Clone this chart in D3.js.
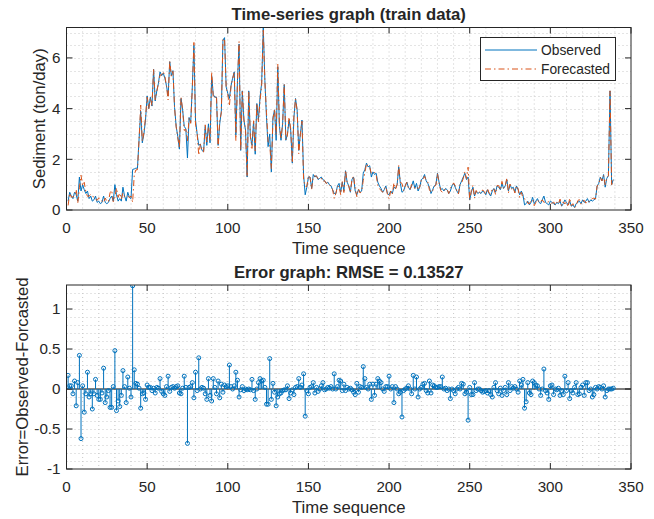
<!DOCTYPE html>
<html>
<head>
<meta charset="utf-8">
<script src="https://cdn.jsdelivr.net/npm/d3@7"></script>
<style>
body { margin: 0; background: #fff; }
text { font-family: "Liberation Sans", Arial, Helvetica, sans-serif; fill: #262626; }
</style>
</head>
<body>
<div id="chart"></div>
<script>
// values, index 1..339
var observed = [
 0.35,0.70,0.55,0.45,0.70,0.60,0.35,1.30,0.75,1.00,
 0.80,0.65,0.75,0.45,0.55,0.35,0.40,0.55,0.30,0.35,
 0.25,0.30,0.55,0.30,0.25,0.30,0.45,0.55,0.35,1.00,
 0.60,0.35,0.45,0.35,0.90,0.55,0.35,0.70,0.50,0.45,
 1.60,1.62,1.65,1.65,2.80,3.90,2.65,3.00,3.55,4.50,
 4.00,4.45,4.10,5.55,4.30,4.70,5.00,5.45,5.30,5.40,
 5.20,4.90,4.50,5.85,5.30,5.50,4.05,3.30,2.90,2.40,
 4.40,3.95,3.30,3.20,2.05,3.65,3.45,4.85,6.50,3.55,
 3.00,2.55,2.60,2.35,2.30,3.30,2.55,3.40,2.65,5.30,
 4.55,4.45,4.45,2.55,3.40,3.90,6.70,6.80,4.85,4.60,
 4.40,4.90,5.20,5.45,2.95,5.10,6.55,2.35,4.70,3.55,
 3.15,1.30,4.70,2.90,2.55,3.50,2.20,4.20,3.55,4.45,
 5.00,7.20,5.10,3.65,2.50,3.00,1.50,3.65,3.95,2.75,
 5.65,3.30,2.75,3.40,4.95,2.75,3.00,3.55,3.15,1.85,
 3.65,4.40,3.95,2.35,3.00,3.55,1.40,0.60,0.90,1.30,
 1.30,0.85,1.40,1.30,1.35,1.20,1.25,1.30,1.20,1.15,
 1.05,1.10,1.00,0.95,0.80,0.65,0.65,0.95,1.05,0.70,
 1.10,0.75,1.55,1.10,0.95,0.70,1.20,1.30,0.75,0.60,
 0.80,0.70,0.75,1.45,1.60,1.85,1.70,1.75,1.30,1.50,
 1.40,1.45,1.10,0.95,0.85,0.70,0.80,0.95,0.65,0.60,
 0.75,0.65,0.90,0.85,1.00,1.70,1.05,0.70,0.75,0.95,
 1.10,0.90,0.80,0.95,1.15,0.85,1.05,0.75,0.90,1.20,
 1.25,1.40,1.15,1.05,0.90,0.65,0.80,0.95,1.00,1.45,
 1.10,0.80,0.85,0.75,0.85,0.80,0.65,0.75,0.95,1.05,
 0.90,0.75,0.65,1.00,1.15,1.30,1.45,1.20,1.30,0.40,
 0.70,0.90,0.55,0.75,0.65,0.70,0.65,0.75,0.70,0.60,
 0.80,0.65,0.55,0.75,0.85,0.70,0.95,0.90,0.80,1.05,
 0.85,0.95,1.20,0.75,1.00,0.85,0.90,0.70,0.95,0.80,
 0.60,0.75,0.60,0.20,0.25,0.35,0.20,0.30,0.50,0.25,
 0.35,0.45,0.30,0.25,0.40,0.55,0.30,0.25,0.20,0.35,
 0.30,0.25,0.20,0.30,0.25,0.35,0.15,0.25,0.40,0.30,
 0.20,0.35,0.15,0.20,0.10,0.25,0.30,0.35,0.25,0.40,
 0.30,0.35,0.45,0.30,0.40,0.35,0.40,0.45,0.95,1.05,
 1.30,1.15,1.40,0.90,1.25,1.35,4.70,1.00,1.20
];

var forecasted = [
 0.18,0.66,0.51,0.51,0.60,0.81,0.27,0.88,1.37,0.96,
 1.09,0.71,0.54,0.55,0.61,0.60,0.46,0.43,0.38,0.48,
 0.38,0.35,0.29,0.47,0.35,0.32,0.68,0.78,0.32,0.52,
 0.87,0.50,0.67,0.43,0.67,0.52,0.52,0.55,0.49,0.55,
 0.31,1.38,1.58,1.59,2.79,4.14,2.71,3.05,3.68,4.45,
 3.98,4.43,4.12,5.54,4.35,4.68,4.99,5.32,5.33,5.46,
 5.28,4.87,4.34,5.88,5.28,5.47,4.04,3.27,2.86,2.45,
 4.46,3.94,3.14,3.18,2.73,3.63,3.42,4.77,6.61,3.34,
 3.02,2.16,2.60,2.33,2.29,3.36,2.68,3.27,2.73,5.45,
 4.42,4.43,4.51,2.45,3.51,3.84,6.74,6.75,4.82,4.56,
 4.10,4.87,5.20,5.41,2.74,4.99,6.65,2.36,4.67,3.57,
 3.15,1.31,4.70,2.91,2.43,3.52,2.33,4.20,3.47,4.32,
 4.90,7.09,5.08,3.84,2.69,2.62,1.63,3.58,3.99,2.96,
 5.75,3.36,2.80,3.42,4.96,2.76,2.96,3.67,3.20,1.86,
 3.72,4.38,3.92,2.22,2.98,3.50,1.21,0.94,0.92,1.36,
 1.28,0.82,1.32,1.35,1.33,1.23,1.25,1.26,1.12,1.16,
 1.05,1.08,0.99,0.92,0.80,0.46,0.65,0.92,0.94,0.60,
 1.12,0.69,1.57,1.08,0.95,0.69,1.21,1.34,0.82,0.53,
 0.84,0.67,0.73,1.17,1.47,1.83,1.70,1.69,1.43,1.44,
 1.48,1.39,0.97,0.85,0.77,0.70,0.83,0.92,0.62,0.44,
 0.75,0.62,1.07,0.82,1.00,1.76,1.09,1.05,0.77,0.95,
 1.09,0.86,0.80,1.01,0.98,0.85,0.90,0.85,0.90,1.18,
 1.19,1.33,1.17,1.10,0.80,0.70,0.75,0.91,0.98,1.43,
 1.07,0.77,0.70,0.75,0.84,0.82,0.65,0.87,0.95,1.07,
 0.96,0.75,0.63,1.00,1.08,1.24,1.51,1.24,1.69,0.38,
 0.77,0.97,0.47,0.77,0.65,0.70,0.67,0.79,0.73,0.62,
 0.85,0.67,0.62,0.85,0.83,0.62,0.97,0.96,0.79,1.13,
 0.87,0.93,1.27,0.67,1.02,0.82,0.89,0.67,0.95,0.84,
 0.50,0.70,0.48,0.44,0.41,0.27,0.25,0.37,0.40,0.17,
 0.30,0.41,0.30,0.33,0.40,0.30,0.32,0.30,0.33,0.31,
 0.25,0.32,0.20,0.31,0.24,0.43,0.17,0.32,0.24,0.32,
 0.12,0.47,0.17,0.25,0.08,0.17,0.37,0.41,0.23,0.35,
 0.38,0.27,0.37,0.32,0.40,0.45,0.47,0.43,0.95,1.02,
 1.28,1.15,1.36,1.00,1.27,1.35,4.70,1.00,1.19
];

var errors = [
 0.17,0.04,0.04,-0.06,0.10,-0.21,0.08,0.42,-0.62,0.04,
 -0.29,-0.06,0.21,-0.10,-0.06,-0.25,-0.06,0.12,-0.08,-0.13,
 -0.13,-0.05,0.26,-0.17,-0.10,-0.02,-0.23,-0.23,0.03,0.48,
 -0.27,-0.15,-0.22,-0.08,0.23,0.03,-0.17,0.15,0.01,-0.10,
 1.29,0.24,0.07,0.06,0.01,-0.24,-0.06,-0.05,-0.13,0.05,
 0.02,0.02,-0.02,0.01,-0.05,0.02,0.01,0.13,-0.03,-0.06,
 -0.08,0.03,0.16,-0.03,0.02,0.03,0.01,0.03,0.04,-0.05,
 -0.06,0.01,0.16,0.02,-0.68,0.02,0.03,0.08,-0.11,0.21,
 -0.02,0.39,0.00,0.02,0.01,-0.06,-0.13,0.13,-0.08,-0.15,
 0.13,0.02,-0.06,0.10,-0.11,0.06,-0.04,0.05,0.03,0.04,
 0.30,0.03,0.00,0.04,0.21,0.11,-0.10,-0.01,0.03,-0.02,
 0.00,-0.01,0.00,-0.01,0.12,-0.02,-0.13,0.00,0.08,0.13,
 0.10,0.11,0.02,-0.19,-0.19,0.38,-0.13,0.07,-0.04,-0.21,
 -0.10,-0.06,-0.05,-0.02,-0.01,-0.01,0.04,-0.12,-0.05,-0.01,
 -0.07,0.02,0.03,0.13,0.02,0.05,0.19,-0.34,-0.02,-0.06,
 0.02,0.03,0.08,-0.05,0.02,-0.03,0.00,0.04,0.08,-0.01,
 0.00,0.02,0.01,0.03,0.00,0.19,0.00,0.03,0.11,0.10,
 -0.02,0.06,-0.02,0.02,0.00,0.01,-0.01,-0.04,-0.07,0.07,
 -0.04,0.03,0.02,0.28,0.13,0.02,0.00,0.06,-0.13,0.06,
 -0.08,0.06,0.13,0.10,0.08,0.00,-0.03,0.03,0.03,0.16,
 0.00,0.03,-0.17,0.03,0.00,-0.06,-0.04,-0.35,-0.02,0.00,
 0.01,0.04,0.00,-0.06,0.17,0.00,0.15,-0.10,0.00,0.02,
 0.06,0.07,-0.02,-0.05,0.10,-0.05,0.05,0.04,0.02,0.02,
 0.03,0.03,0.15,0.00,0.01,-0.02,0.00,-0.12,0.00,-0.02,
 -0.06,0.00,0.02,0.00,0.07,0.06,-0.06,-0.04,-0.39,0.02,
 -0.07,-0.07,0.08,-0.02,0.00,0.00,-0.02,-0.04,-0.03,-0.02,
 -0.05,-0.02,-0.07,-0.10,0.02,0.08,-0.02,-0.06,0.01,-0.08,
 -0.02,0.02,-0.07,0.08,-0.02,0.03,0.01,0.03,0.00,-0.04,
 0.10,0.05,0.12,-0.24,-0.16,0.08,-0.05,-0.07,0.10,0.08,
 0.05,0.04,0.00,-0.08,0.00,0.25,-0.02,-0.05,-0.13,0.04,
 0.05,-0.07,0.00,-0.01,0.01,-0.08,-0.02,-0.07,0.16,-0.02,
 0.08,-0.12,-0.02,-0.05,0.02,0.08,-0.07,-0.06,0.02,0.05,
 -0.08,0.08,0.08,-0.02,0.00,-0.10,-0.07,0.02,0.00,0.03,
 0.02,0.00,0.04,-0.10,-0.02,0.00,0.00,0.00,0.01
];

var xTicks = [0, 50, 100, 150, 200, 250, 300, 350];
var sedTicks = [0, 2, 4, 6];
var errTicks = [-1, -0.5, 0, 0.5, 1];
var legendNames = ["Observed", "Forecasted"];

var blue = "#0072BD", orange = "#D95319";
var W = 654, H = 519;
var left = 66.5, right = 631;
var tickFont = 15.2, labFont = 16.7;

var svg = d3.select("#chart").append("svg")
    .attr("width", W).attr("height", H);
svg.append("rect").attr("width", W).attr("height", H).attr("fill", "#fff");

var x = d3.scaleLinear().domain([0, 350]).range([left, right]);
var y1 = d3.scaleLinear().domain([0, 7.2]).range([210, 27.5]);
var y2 = d3.scaleLinear().domain([-1, 1.3]).range([469, 285]);

function panel(y, yTicks, minorY, id) {
    var g = svg.append("g");
    var y0 = y.range()[0], yt = y.range()[1];

    // minor grid (dotted)
    g.selectAll(".mx").data(d3.range(10, 350, 10)).enter().append("line")
        .attr("x1", d => x(d)).attr("x2", d => x(d))
        .attr("y1", yt).attr("y2", y0)
        .attr("stroke", "#c8c8c8").attr("stroke-width", 1)
        .attr("stroke-dasharray", "1,3");
    g.selectAll(".my").data(minorY).enter().append("line")
        .attr("x1", left).attr("x2", right)
        .attr("y1", d => Math.round(y(d)) + 0.5).attr("y2", d => Math.round(y(d)) + 0.5)
        .attr("stroke", "#c8c8c8").attr("stroke-width", 1)
        .attr("stroke-dasharray", "1,3");

    g.append("clipPath").attr("id", id).append("rect")
        .attr("x", left).attr("y", yt).attr("width", right - left).attr("height", y0 - yt);

    // ticks inside, on all four sides
    var tl = 6;
    xTicks.forEach(function (t) {
        g.append("line").attr("x1", x(t)).attr("x2", x(t)).attr("y1", y0).attr("y2", y0 - tl)
            .attr("stroke", "#262626");
        g.append("line").attr("x1", x(t)).attr("x2", x(t)).attr("y1", yt).attr("y2", yt + tl)
            .attr("stroke", "#262626");
        g.append("text").attr("x", x(t)).attr("y", y0 + 22.5)
            .attr("text-anchor", "middle").attr("font-size", tickFont).text(t);
    });
    yTicks.forEach(function (t) {
        g.append("line").attr("x1", left).attr("x2", left + tl).attr("y1", y(t)).attr("y2", y(t))
            .attr("stroke", "#262626");
        g.append("line").attr("x1", right).attr("x2", right - tl).attr("y1", y(t)).attr("y2", y(t))
            .attr("stroke", "#262626");
        g.append("text").attr("x", left - 6).attr("y", y(t) + 5.3)
            .attr("text-anchor", "end").attr("font-size", tickFont).text(String(t));
    });
    return g;
}

function frame(y) {
    svg.append("rect")
        .attr("x", left).attr("y", y.range()[1])
        .attr("width", right - left).attr("height", y.range()[0] - y.range()[1])
        .attr("fill", "none").attr("stroke", "#262626").attr("stroke-width", 1);
}

// ---------- top panel ----------
panel(y1, sedTicks, d3.range(0.5, 7.2, 0.5), "clipTop");

var line = function (vals) {
    return d3.line().x((d, i) => x(i + 1)).y(d => y1(d))(vals);
};
var plotTop = svg.append("g").attr("clip-path", "url(#clipTop)");
plotTop.append("path").attr("d", line(observed))
    .attr("fill", "none").attr("stroke", blue).attr("stroke-width", 1);
plotTop.append("path").attr("d", line(forecasted))
    .attr("fill", "none").attr("stroke", orange).attr("stroke-width", 1)
    .attr("stroke-dasharray", "6,3,1.5,3");
frame(y1);

svg.append("text").attr("x", (left + right) / 2).attr("y", 20)
    .attr("text-anchor", "middle").attr("font-size", labFont).attr("font-weight", "bold")
    .attr("fill", "#000").text("Time-series graph (train data)");
svg.append("text").attr("x", (left + right) / 2).attr("y", 254)
    .attr("text-anchor", "middle").attr("font-size", labFont).text("Time sequence");
svg.append("text").attr("transform", "translate(45," + (27.5 + 210) / 2 + ") rotate(-90)")
    .attr("text-anchor", "middle").attr("font-size", labFont).text("Sediment (ton/day)");

// legend
var lg = svg.append("g");
lg.append("rect").attr("x", 480.5).attr("y", 37.5).attr("width", 135).attr("height", 43)
    .attr("fill", "#fff").attr("stroke", "#262626");
legendNames.forEach(function (name, i) {
    var ly = 50 + i * 19;
    lg.append("line").attr("x1", 485).attr("x2", 537).attr("y1", ly).attr("y2", ly)
        .attr("stroke", i == 0 ? blue : orange).attr("stroke-width", 1)
        .attr("stroke-dasharray", i == 0 ? null : "6,3,1.5,3");
    lg.append("text").attr("x", 541).attr("y", ly + 5).attr("font-size", 13.8).text(name);
});

// ---------- bottom panel ----------
panel(y2, errTicks, d3.range(-0.9, 1.3, 0.1).filter(d => Math.abs(d) > 1e-9), "clipBot");

var plotBot = svg.append("g").attr("clip-path", "url(#clipBot)");
plotBot.append("line").attr("x1", left).attr("x2", right)
    .attr("y1", y2(0)).attr("y2", y2(0)).attr("stroke", "#000").attr("stroke-width", 1);
plotBot.selectAll(".stem").data(errors).enter().append("line")
    .attr("x1", (d, i) => x(i + 1)).attr("x2", (d, i) => x(i + 1))
    .attr("y1", y2(0)).attr("y2", d => y2(d))
    .attr("stroke", blue).attr("stroke-width", 1);
plotBot.selectAll(".mk").data(errors).enter().append("circle")
    .attr("cx", (d, i) => x(i + 1)).attr("cy", d => y2(d)).attr("r", 2)
    .attr("fill", "none").attr("stroke", blue).attr("stroke-width", 1);
frame(y2);

svg.append("text").attr("x", (left + right) / 2).attr("y", 277.5)
    .attr("text-anchor", "middle").attr("font-size", labFont).attr("font-weight", "bold")
    .attr("fill", "#000").text("Error graph: RMSE = 0.13527");
svg.append("text").attr("x", (left + right) / 2).attr("y", 513)
    .attr("text-anchor", "middle").attr("font-size", labFont).text("Time sequence");
svg.append("text").attr("transform", "translate(28," + (285 + 469) / 2 + ") rotate(-90)")
    .attr("text-anchor", "middle").attr("font-size", labFont).text("Error=Observed-Forcasted");
</script>
</body>
</html>
